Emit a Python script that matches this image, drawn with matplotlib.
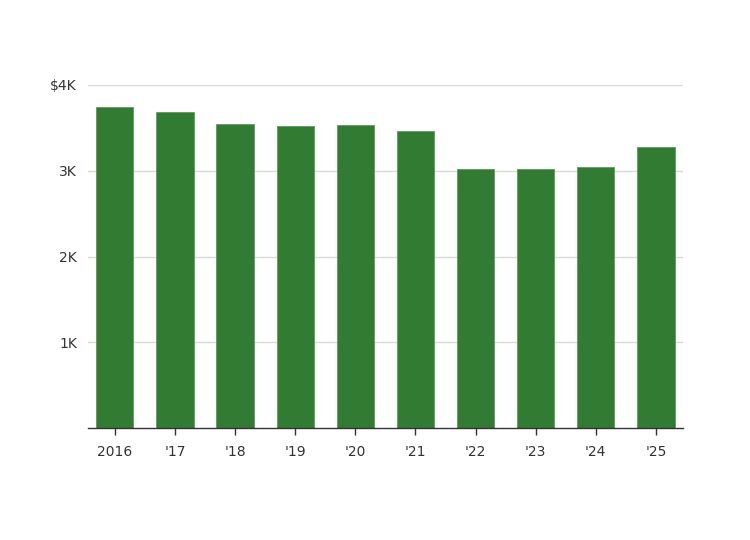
import matplotlib
matplotlib.use('Agg')
import matplotlib.pyplot as plt
from matplotlib.ticker import FixedLocator

# data (USD)
years = ['2016', "'17", "'18", "'19", "'20", "'21", "'22", "'23", "'24", "'25"]
values = [3747, 3685, 3545, 3522, 3534, 3464, 3017, 3017, 3044, 3281]
y_ticks = [1000, 2000, 3000, 4000]
y_labels = ['1K', '2K', '3K', '$4K']

plt.rcParams['font.family'] = ['DejaVu Sans']

fig = plt.figure(figsize=(7.5, 5.4), dpi=100)
ax = fig.add_axes([88 / 750, 1 - 428 / 540, 595 / 750, 343 / 540])

x = range(len(years))
ax.bar(x, values, width=0.62, color='#327b32', edgecolor='#5e9a5e', linewidth=0.6, zorder=3)

ax.set_xlim(-0.445, 9.45)
ax.set_ylim(0, 4000)
ax.set_xticks(list(x))
ax.set_xticklabels(years)
ax.yaxis.set_major_locator(FixedLocator(y_ticks))
ax.set_yticklabels(y_labels)

ax.grid(axis='y', color='#d9d9d9', linewidth=1, zorder=0)
for s in ['top', 'right', 'left']:
    ax.spines[s].set_visible(False)
ax.spines['bottom'].set_color('#333333')
ax.spines['bottom'].set_linewidth(1)
ax.spines['bottom'].set_zorder(4)

ax.tick_params(axis='y', length=0, pad=8, labelsize=10, labelcolor='#333333')
ax.tick_params(axis='x', length=5, width=1, color='#333333', pad=7,
               labelsize=10, labelcolor='#333333')

fig.savefig('out.png', dpi=100)
